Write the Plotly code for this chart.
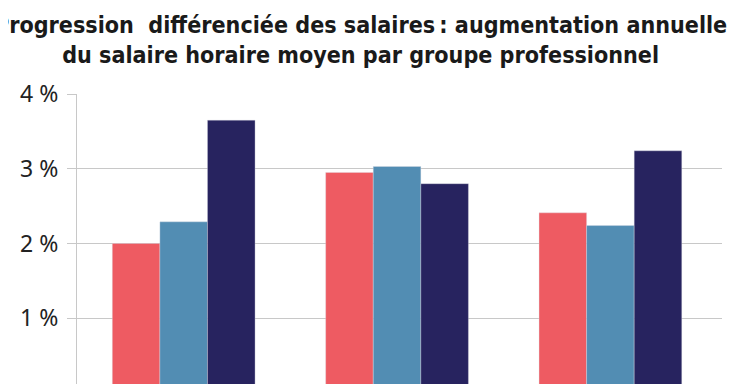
import plotly.graph_objects as go

categories = ["Groupe A", "Groupe B", "Groupe C"]
series_names = ["Série 1", "Série 2", "Série 3"]
series_values = {
    "Série 1": [2.00, 2.95, 2.41],
    "Série 2": [2.29, 3.03, 2.24],
    "Série 3": [3.65, 2.80, 3.24],
}
colors = ["#EE5B62", "#528DB3", "#27235F"]
y_ticks = [1, 2, 3, 4]
y_tick_labels = ["1 %", "2 %", "3 %", "4 %"]
title_text = ("Progression  différenciée des salaires\u2009: augmentation annuelle"
              "<br>du salaire horaire moyen par groupe professionnel")

fig = go.Figure()
for name, col in zip(series_names, colors):
    fig.add_trace(go.Bar(
        x=categories, y=series_values[name], name=name,
        marker=dict(color=col, line=dict(color="rgba(220,220,230,0.6)", width=0.6)),
    ))

fig.update_layout(
    width=727, height=376,
    margin=dict(l=69, r=13, t=86, b=0),
    paper_bgcolor="white", plot_bgcolor="white",
    barmode="group", bargap=0.331, bargroupgap=0,
    showlegend=False,
    title=dict(text=title_text, x=0.485, xanchor="center", y=0.9347, yanchor="top",
               font=dict(family="DejaVu Sans Condensed, DejaVu Sans, sans-serif",
                         size=23.1, color="#1a1a1a", weight="bold")),
)
fig.update_xaxes(range=[-0.5, 2.523], showticklabels=False, showgrid=False,
                 showline=False, zeroline=False, ticks="")
fig.update_yaxes(range=[0.1205, 4.0], tickvals=y_ticks, ticktext=y_tick_labels,
                 showgrid=True, gridcolor="#C8C8C8", gridwidth=1.2,
                 showline=True, linecolor="#C8C8C8", linewidth=1.2,
                 ticks="outside", ticklen=9, tickcolor="#C8C8C8", tickwidth=1.2,
                 ticklabelstandoff=4, zeroline=False,
                 tickfont=dict(family="Noto Sans, sans-serif", size=23, color="#222222"))

fig.write_html("out.html")
